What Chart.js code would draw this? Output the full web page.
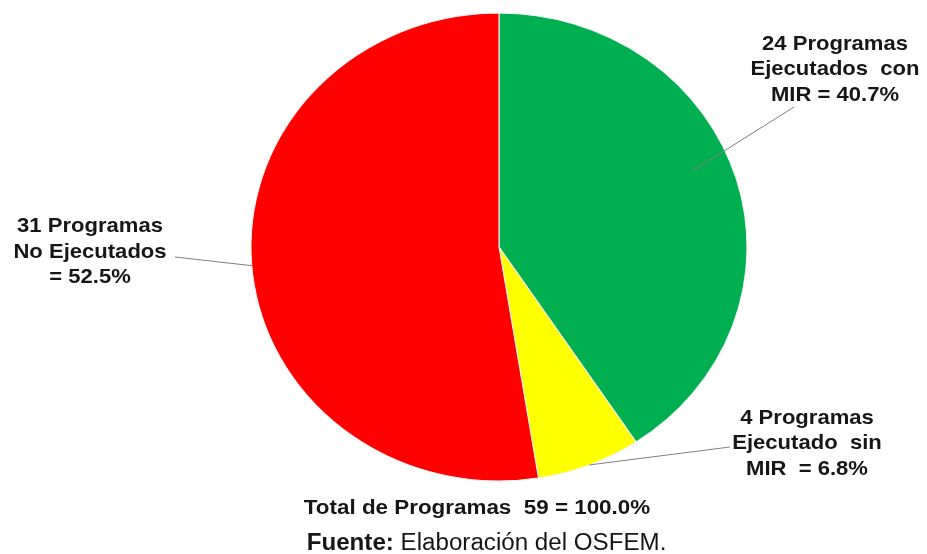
<!DOCTYPE html>
<html>
<head>
<meta charset="utf-8">
<script src="https://cdn.jsdelivr.net/npm/chart.js@4.4.1/dist/chart.umd.min.js"></script>
<style>
  html, body { margin: 0; padding: 0; background: #ffffff; }
  #wrap { width: 927px; height: 554px; }
</style>
</head>
<body>
<div id="wrap"><canvas id="chart" width="927" height="554"></canvas></div>
<script>
// Programas por estado de ejecución
const categories = ['Ejecutados con MIR', 'Ejecutado sin MIR', 'No Ejecutados'];
const programCounts = [24, 4, 31];
const sliceColors = ['#00B050', '#FFFF00', '#FF0000'];

// Label text per slice: {n} = number of programs, {p} = percentage
const labelTemplates = [
  ['{n} Programas', 'Ejecutados  con', 'MIR = {p}%'],
  ['{n} Programas', 'Ejecutado  sin', 'MIR  = {p}%'],
  ['{n} Programas', 'No Ejecutados', '= {p}%']
];
const totalTemplate = 'Total de Programas  {n} = {p}%';
const sourceBold = 'Fuente:';
const sourceText = ' Elaboración del OSFEM.';

// Layout of the pie (drawn slightly flattened) and of the labels
const PIE = { cx: 499, cy: 247, rx: 248, ry: 234 };
const FONT_FAMILY = "'Liberation Sans', Arial, Helvetica, sans-serif";
const TEXT_COLOR = '#161616';
const LEADER_COLOR = '#7f7f7f';
const labelLayout = [
  { x: 835, y: 49.5,  t: 0.46, f: 0.845, end: [794, 107] },
  { x: 807, y: 423.5, t: 0.5,  f: 1.0,   end: [730, 447] },
  { x: 90,  y: 232,   t: 0.5,  f: 1.0,   end: [175, 257] }
];
const LINE_HEIGHT = 25.5;

const total = programCounts.reduce((a, b) => a + b, 0);
const pct = v => (v / total * 100).toFixed(1);
const fill = (tpl, n, p) => tpl.replace('{n}', n).replace('{p}', p);

function drawStretched(ctx, str, x, y, font, sx) {
  ctx.save();
  ctx.font = font;
  ctx.fillStyle = TEXT_COLOR;
  ctx.textAlign = 'center';
  ctx.textBaseline = 'alphabetic';
  ctx.translate(x, y);
  ctx.scale(sx, 1);
  ctx.fillText(str, 0, 0);
  ctx.restore();
}

// Flatten the pie into an ellipse around its centre
const ellipsePlugin = {
  id: 'ellipsePie',
  beforeDatasetsDraw(chart) {
    const arc = chart.getDatasetMeta(0).data[0];
    const ctx = chart.ctx;
    ctx.save();
    ctx.translate(PIE.cx, PIE.cy);
    ctx.scale(PIE.rx / arc.outerRadius, PIE.ry / arc.outerRadius);
    ctx.translate(-arc.x, -arc.y);
  },
  afterDatasetsDraw(chart) {
    chart.ctx.restore();
  }
};

// Leader lines, slice labels, total and source
const labelPlugin = {
  id: 'sliceLabels',
  afterDraw(chart) {
    const ctx = chart.ctx;
    const arcs = chart.getDatasetMeta(0).data;
    arcs.forEach((arc, i) => {
      const lay = labelLayout[i];
      const a = arc.startAngle + lay.t * (arc.endAngle - arc.startAngle);
      const ax = PIE.cx + PIE.rx * lay.f * Math.cos(a);
      const ay = PIE.cy + PIE.ry * lay.f * Math.sin(a);
      ctx.save();
      ctx.strokeStyle = LEADER_COLOR;
      ctx.lineWidth = 1;
      ctx.beginPath();
      ctx.moveTo(ax, ay);
      ctx.lineTo(lay.end[0], lay.end[1]);
      ctx.stroke();
      ctx.restore();
      const p = pct(programCounts[i]);
      labelTemplates[i].forEach((tpl, k) => {
        drawStretched(ctx, fill(tpl, programCounts[i], p), lay.x, lay.y + k * LINE_HEIGHT,
          'bold 21px ' + FONT_FAMILY, 1.05);
      });
    });

    // Total line
    drawStretched(ctx, fill(totalTemplate, total, pct(total)), 477, 514,
      'bold 20px ' + FONT_FAMILY, 1.12);

    // Source line: bold prefix + regular text, centred together
    const sx = 1.05;
    ctx.save();
    ctx.font = 'bold 23px ' + FONT_FAMILY;
    const wBold = ctx.measureText(sourceBold).width;
    ctx.font = '23px ' + FONT_FAMILY;
    const wReg = ctx.measureText(sourceText).width;
    const totalW = (wBold + wReg) * sx;
    const x0 = 486.5 - totalW / 2;
    ctx.fillStyle = TEXT_COLOR;
    ctx.textAlign = 'left';
    ctx.textBaseline = 'alphabetic';
    ctx.translate(x0, 550);
    ctx.scale(sx, 1);
    ctx.font = 'bold 23px ' + FONT_FAMILY;
    ctx.fillText(sourceBold, 0, 0);
    ctx.font = '23px ' + FONT_FAMILY;
    ctx.fillText(sourceText, wBold, 0);
    ctx.restore();
  }
};

new Chart(document.getElementById('chart'), {
  type: 'pie',
  data: {
    labels: categories,
    datasets: [{
      data: programCounts,
      backgroundColor: sliceColors,
      borderColor: '#f4f4f4',
      borderWidth: 1,
      clip: false
    }]
  },
  options: {
    responsive: false,
    animation: false,
    devicePixelRatio: 1,
    layout: { padding: { left: 251, right: 180, top: 0, bottom: 60 } },
    plugins: {
      legend: { display: false },
      tooltip: { enabled: false }
    }
  },
  plugins: [ellipsePlugin, labelPlugin]
});
</script>
</body>
</html>
